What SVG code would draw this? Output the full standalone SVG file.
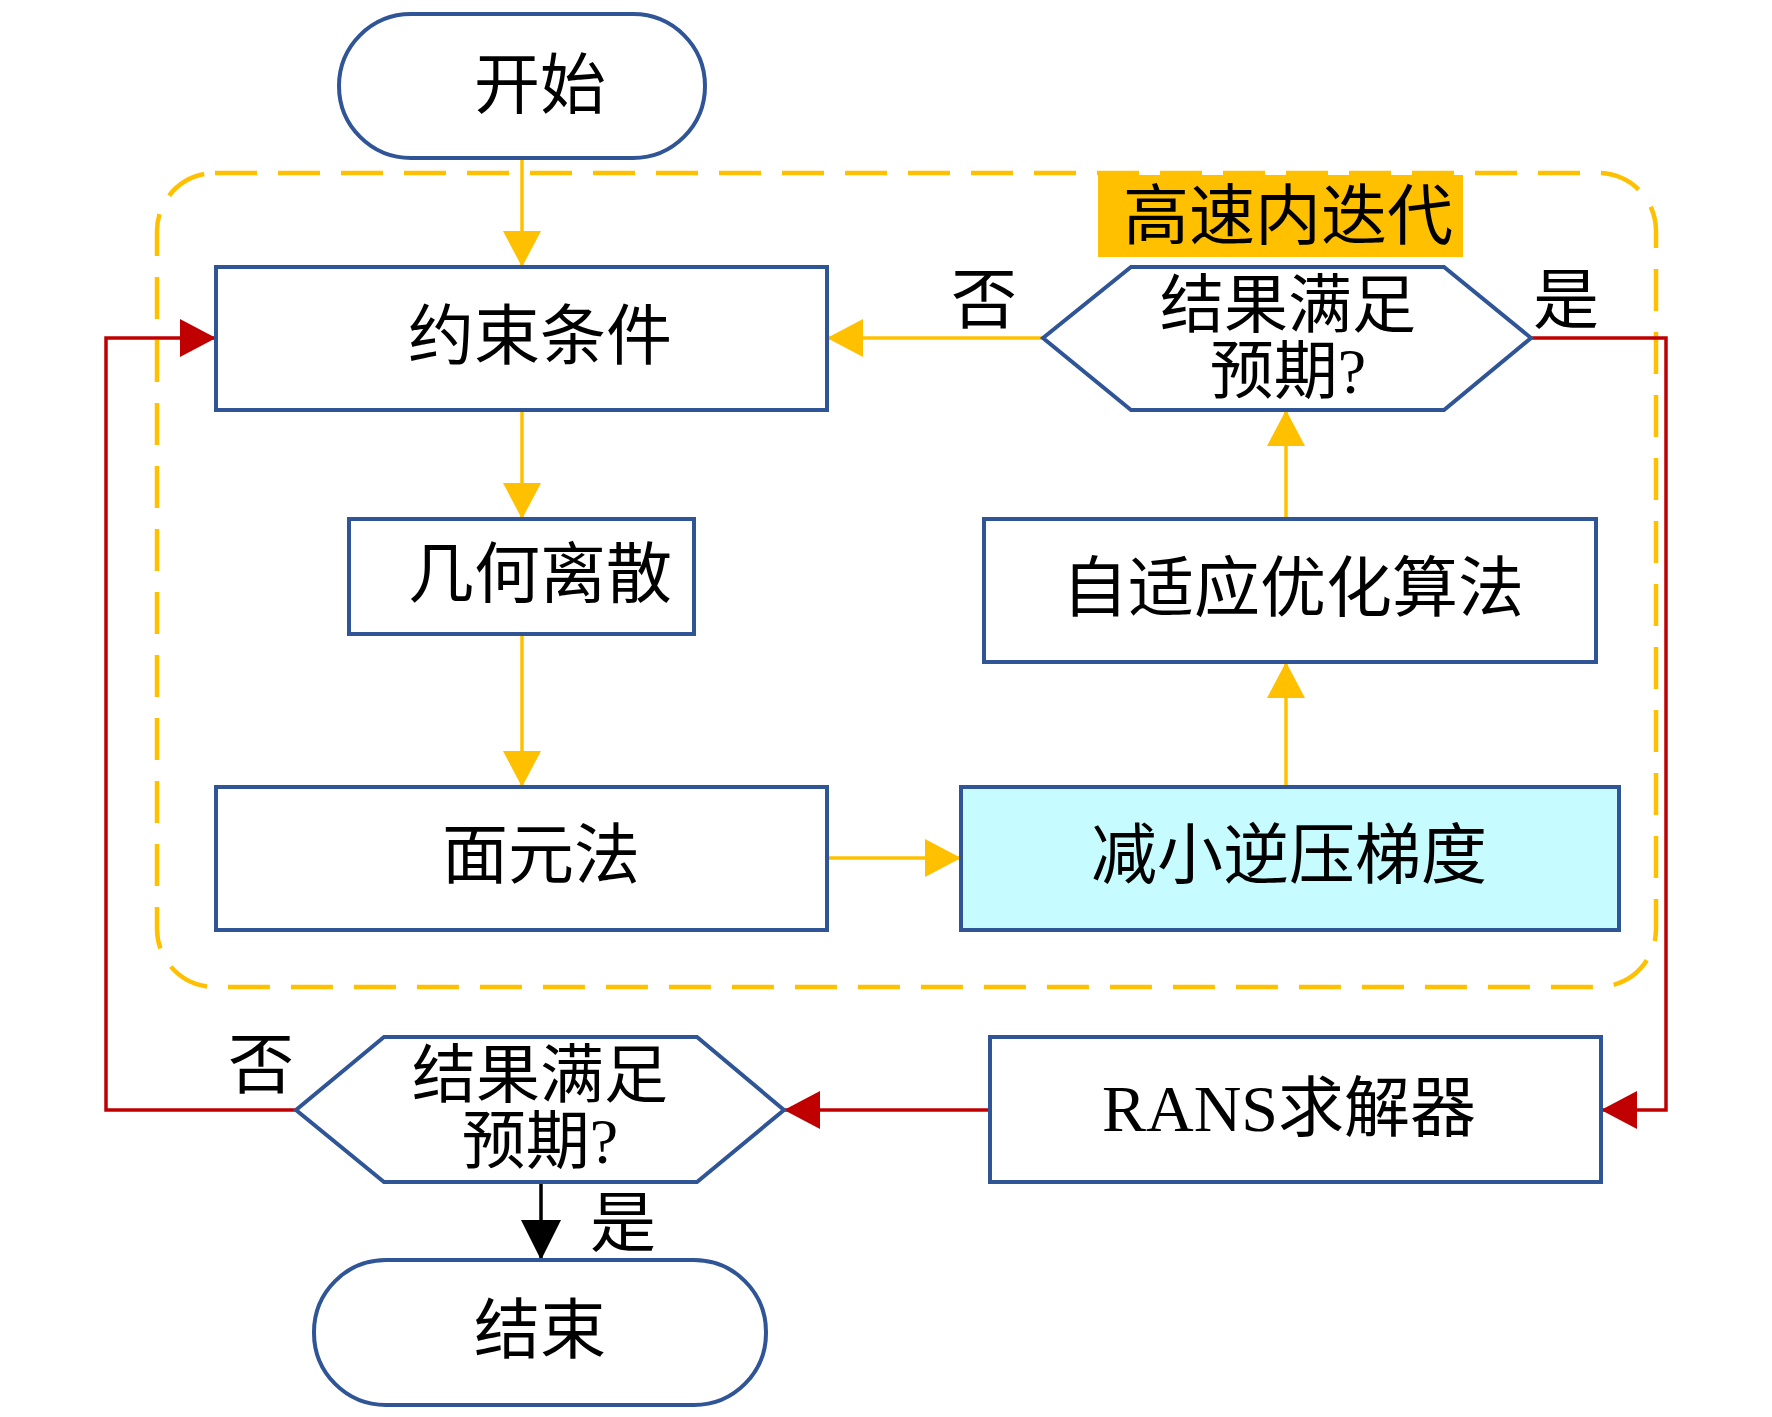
<svg xmlns="http://www.w3.org/2000/svg" width="1772" height="1417" viewBox="0 0 1772 1417">
<style>
.node{fill:#ffffff;stroke:#2F5597;stroke-width:4}
.t{font-family:"Liberation Serif","Noto Sans CJK SC",serif;font-size:66px;fill:#000;text-anchor:middle;dominant-baseline:central}
.h{font-size:64px}
.y{stroke:#FFC000;stroke-width:3.5;fill:none}
.r{stroke:#C00000;stroke-width:3.5;fill:none}
.k{stroke:#000;stroke-width:3.5;fill:none}
</style>
<defs>
<marker id="ay" markerUnits="userSpaceOnUse" markerWidth="38" markerHeight="38" refX="36" refY="19" orient="auto"><path d="M0,0 L36,19 L0,38 z" fill="#FFC000"/></marker>
<marker id="ar" markerUnits="userSpaceOnUse" markerWidth="38" markerHeight="38" refX="36" refY="19" orient="auto"><path d="M0,0 L36,19 L0,38 z" fill="#C00000"/></marker>
<marker id="ak" markerUnits="userSpaceOnUse" markerWidth="42" markerHeight="42" refX="40" refY="20" orient="auto"><path d="M0,0 L40,20 L0,40 z" fill="#000"/></marker>
</defs>
<rect x="0" y="0" width="1772" height="1417" fill="#ffffff"/>
<g id="loop-frame">
<rect x="157" y="173" width="1499" height="814" rx="58" fill="none" stroke="#FFC000" stroke-width="4.5" stroke-dasharray="42,21"/>
<rect x="1098" y="175" width="365" height="82" fill="#FFC000"/>
<text class="t" x="1288" y="216">高速内迭代</text>
</g>
<g id="connectors">
<path class="y" d="M522,158 L522,267" marker-end="url(#ay)"/>
<path class="y" d="M522,410 L522,519" marker-end="url(#ay)"/>
<path class="y" d="M522,634 L522,787" marker-end="url(#ay)"/>
<path class="y" d="M827,858 L961,858" marker-end="url(#ay)"/>
<path class="y" d="M1286,787 L1286,662" marker-end="url(#ay)"/>
<path class="y" d="M1286,519 L1286,410" marker-end="url(#ay)"/>
<path class="y" d="M1043,338 L827,338" marker-end="url(#ay)"/>
<path class="r" d="M1531,338 L1666,338 L1666,1110 L1601,1110" marker-end="url(#ar)"/>
<path class="r" d="M990,1110 L784,1110" marker-end="url(#ar)"/>
<path class="r" d="M296,1110 L106,1110 L106,338 L216,338" marker-end="url(#ar)"/>
<path class="k" d="M541,1182 L541,1260" marker-end="url(#ak)"/>
<text class="t" x="984" y="300">否</text>
<text class="t" x="1566" y="300">是</text>
<text class="t" x="261" y="1065">否</text>
<text class="t" x="623" y="1223">是</text>
</g>
<g id="start">
<rect class="node" x="339" y="14" width="366" height="144" rx="72"/>
<text class="t" x="540" y="85">开始</text>
</g>
<g id="constraints">
<rect class="node" x="216" y="267" width="611" height="143"/>
<text class="t" x="540" y="336">约束条件</text>
</g>
<g id="discretize">
<rect class="node" x="349" y="519" width="345" height="115"/>
<text class="t" x="540" y="574">几何离散</text>
</g>
<g id="panel">
<rect class="node" x="216" y="787" width="611" height="143"/>
<text class="t" x="541" y="855">面元法</text>
</g>
<g id="reduce">
<rect class="node" x="961" y="787" width="658" height="143" style="fill:#C6FCFF"/>
<text class="t" x="1289" y="855">减小逆压梯度</text>
</g>
<g id="adaptive">
<rect class="node" x="984" y="519" width="612" height="143"/>
<text class="t" x="1293" y="588">自适应优化算法</text>
</g>
<g id="check-inner">
<polygon class="node" points="1131,267 1444,267 1531,338 1444,410 1131,410 1043,338"/>
<text class="t h" x="1288" y="305">结果满足</text>
<text class="t h" x="1288" y="371">预期?</text>
</g>
<g id="rans">
<rect class="node" x="990" y="1037" width="611" height="145"/>
<text class="t" x="1289" y="1108">RANS求解器</text>
</g>
<g id="check-outer">
<polygon class="node" points="384,1037 697,1037 784,1110 697,1182 384,1182 296,1110"/>
<text class="t h" x="540" y="1075">结果满足</text>
<text class="t h" x="540" y="1141">预期?</text>
</g>
<g id="end">
<rect class="node" x="314" y="1260" width="452" height="145" rx="72"/>
<text class="t" x="540" y="1330">结束</text>
</g>
</svg>
